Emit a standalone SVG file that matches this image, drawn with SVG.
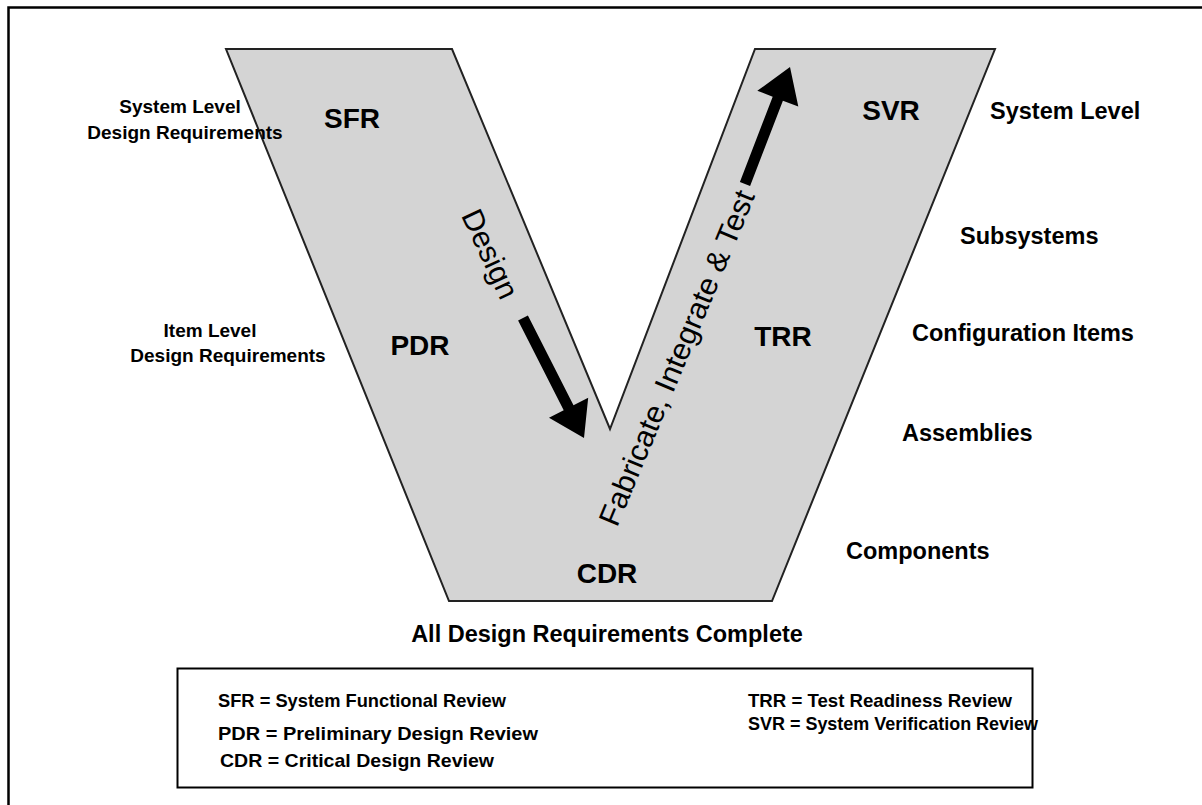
<svg xmlns="http://www.w3.org/2000/svg" width="1202" height="805" viewBox="0 0 1202 805">
<style>
.lbl{font-family:"Liberation Sans",Arial,sans-serif;font-weight:bold;font-size:19px;fill:#000}
.rl{font-family:"Liberation Sans",Arial,sans-serif;font-weight:bold;font-size:23.5px;fill:#000}
.big{font-family:"Liberation Sans",Arial,sans-serif;font-weight:bold;font-size:28px;fill:#000}
.rot{font-family:"Liberation Sans",Arial,sans-serif;font-size:30px;fill:#000}
.leg{font-family:"Liberation Sans",Arial,sans-serif;font-weight:bold;font-size:19px;fill:#000}
</style>
<rect width="1202" height="805" fill="#fff"/>
<path d="M8.5,806 V7.5 H1203" fill="none" stroke="#000" stroke-width="2.5"/>
<g id="v-shape">
<polygon points="226,49 452,49 610,429 755,49 995,49 772,601 449,601" fill="#d4d4d4" stroke="#222" stroke-width="2" stroke-linejoin="miter"/>
</g>
<g id="connectors">
<polygon id="design-arrow" points="527.9,315.5 573.5,405.2 588.2,397.7 584,438 549,417.7 563.7,410.2 518.1,320.5" fill="#000"/>
<polygon id="fit-arrow" points="750.1,186 782.9,100.7 798.3,106.6 790,67 757.3,90.8 772.7,96.7 739.9,182" fill="#000"/>
</g>
<g id="design-label"><text class="rot" transform="translate(490,254) rotate(65)" x="0" y="10" text-anchor="middle" textLength="95" lengthAdjust="spacingAndGlyphs">Design</text></g>
<g id="fit-label"><text class="rot" transform="translate(677,358) rotate(-67.4)" x="0" y="10" text-anchor="middle" textLength="360" lengthAdjust="spacingAndGlyphs">Fabricate, Integrate &amp; Test</text></g>
<g id="sfr"><text class="big" x="352" y="128" text-anchor="middle">SFR</text></g>
<g id="pdr"><text class="big" x="420" y="355" text-anchor="middle">PDR</text></g>
<g id="cdr"><text class="big" x="607" y="583" text-anchor="middle">CDR</text></g>
<g id="trr"><text class="big" x="783" y="346" text-anchor="middle">TRR</text></g>
<g id="svr"><text class="big" x="891" y="120" text-anchor="middle">SVR</text></g>
<g id="left-labels">
<text class="lbl" x="180" y="113" text-anchor="middle">System Level</text>
<text class="lbl" x="185" y="139" text-anchor="middle">Design Requirements</text>
<text class="lbl" x="210" y="337" text-anchor="middle">Item Level</text>
<text class="lbl" x="228" y="362" text-anchor="middle">Design Requirements</text>
</g>
<g id="right-labels">
<text class="rl" x="990" y="119">System Level</text>
<text class="rl" x="960" y="244">Subsystems</text>
<text class="rl" x="912" y="341">Configuration Items</text>
<text class="rl" x="902" y="441">Assemblies</text>
<text class="rl" x="846" y="559">Components</text>
</g>
<g id="bottom-label"><text class="rl" x="607" y="642" text-anchor="middle">All Design Requirements Complete</text></g>
<g id="legend">
<rect x="177.5" y="668.5" width="855" height="119" fill="#fff" stroke="#000" stroke-width="2"/>
<text class="leg" x="218" y="707" textLength="288" lengthAdjust="spacingAndGlyphs">SFR =  System Functional Review</text>
<text class="leg" x="218" y="740" textLength="320" lengthAdjust="spacingAndGlyphs">PDR =  Preliminary Design Review</text>
<text class="leg" x="220" y="767" textLength="274" lengthAdjust="spacingAndGlyphs">CDR =  Critical Design Review</text>
<text class="leg" x="748" y="707" textLength="264" lengthAdjust="spacingAndGlyphs">TRR =  Test Readiness Review</text>
<text class="leg" x="748" y="730" textLength="290" lengthAdjust="spacingAndGlyphs">SVR =  System Verification Review</text>
</g>
</svg>
